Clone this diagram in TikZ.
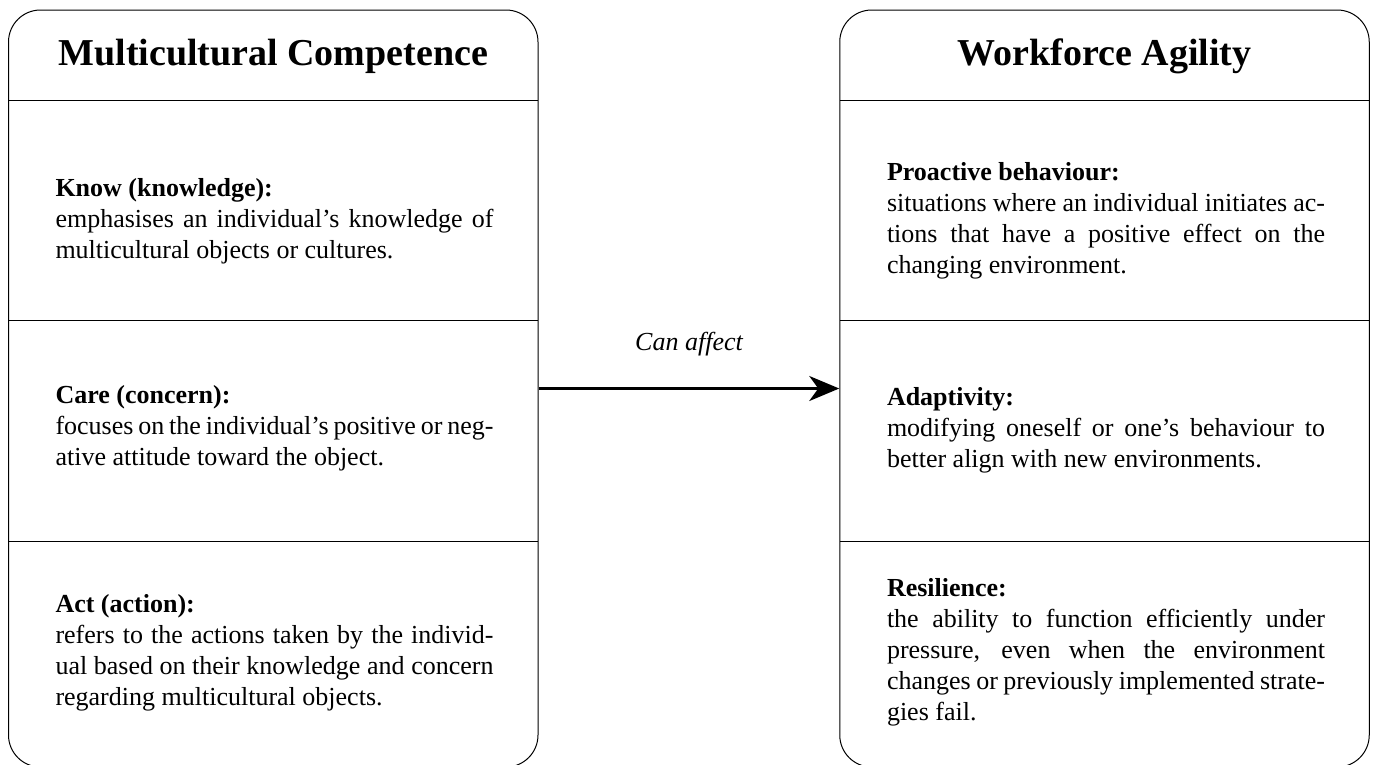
\documentclass[tikz,border=0pt]{standalone}
\usepackage{fontspec}
\setmainfont{Liberation Serif}
\usetikzlibrary{arrows.meta}

\tikzset{every picture/.style={line width=1pt}}
\tikzset{
  panel/.style={draw, rounded corners=32pt, minimum width=529.5pt, minimum height=757pt, inner sep=0pt},
  heading/.style={anchor=base, inner sep=0pt, font=\bfseries\fontsize{38}{45}\selectfont},
  item/.style={anchor=base west, inner sep=0pt, text width=438pt, align=justify, font=\fontsize{26}{31}\selectfont},
}

\begin{document}
\begin{tikzpicture}[x=1pt,y=1pt,yscale=-1,xscale=1]
\useasboundingbox (0,0) rectangle (1373,764);

%Shape: Rounded Rect
\node (mc) [panel] at (273.25,388.5) {};
%Shape: Rounded Rect
\node (wa) [panel] at (1104.5,388.5) {};

%Straight Lines
\draw    (8.5,100) -- (538,100) ;
\draw    (8.5,320) -- (538,320) ;
\draw    (8.5,541) -- (538,541) ;
%Straight Lines
\draw    (840,100) -- (1369,100) ;
\draw    (840,320) -- (1369,320) ;
\draw    (840,541) -- (1369,541) ;

% Text Node
\node (mctitle) [heading] at (273.25,65) {Multicultural Competence};
% Text Node
\node (watitle) [heading] at (1104.5,65) {Workforce Agility};

% Text Node
\node (know) [item] at (55,196.7) {\textbf{Know (knowledge):}\\
emphasises an individual's knowledge of\linebreak multicultural objects or cultures.};
% Text Node
\node (care) [item] at (55,403) {\textbf{Care (concern):}\\
focuses on the individual's positive or neg-\linebreak ative attitude toward the object.};
% Text Node
\node (act) [item] at (55,612) {\textbf{Act (action):}\\
refers to the actions taken by the individ-\linebreak ual based on their knowledge and concern\linebreak regarding multicultural objects.};

% Text Node
\node (proactive) [item] at (886.5,180) {\textbf{Proactive behaviour:}\\
situations where an individual initiates ac-\linebreak tions that have a positive effect on the\linebreak changing environment.};
% Text Node
\node (adaptivity) [item] at (886.5,405) {\textbf{Adaptivity:}\\
modifying oneself or one's behaviour to\linebreak better align with new environments.};
% Text Node
\node (resilience) [item] at (886.5,596) {\textbf{Resilience:}\\
the ability to function efficiently under\linebreak pressure, even when the environment\linebreak changes or previously implemented strate-\linebreak gies fail.};

%Straight Lines
\draw [line width=2.8pt, -{Stealth[length=30pt,width=25pt,inset=9pt]}]  (mc.east) -- (wa.west) ;
% Text Node
\node (affect) [anchor=base, inner sep=0pt, font=\itshape\fontsize{26}{31}\selectfont] at (689,350) {Can affect};

\end{tikzpicture}
\end{document}
